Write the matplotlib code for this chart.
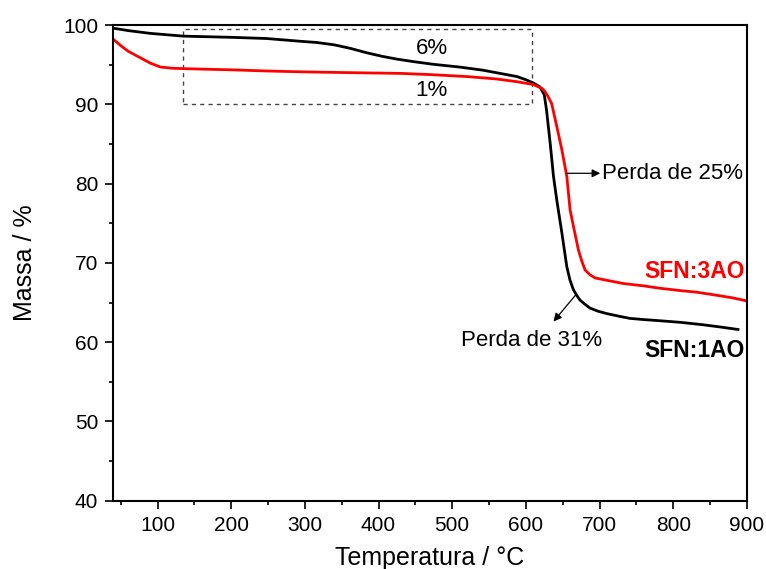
import matplotlib

matplotlib.use("Agg")
import matplotlib.pyplot as plt
from matplotlib.patches import Rectangle
from matplotlib.ticker import MultipleLocator

plt.rcParams["font.family"] = ["Liberation Sans", "DejaVu Sans"]

# TGA curves
temp_1ao = [40, 60, 90, 135, 200, 248, 294, 316, 340, 362, 384, 405, 425, 450, 475,
            510, 542, 565, 588, 600, 610, 619, 625, 628, 633, 637.5, 642, 644, 649,
            655.6, 660, 664.6, 669, 673.6, 680, 687, 698, 710, 725, 741, 760, 782,
            810, 840, 865, 888]
mass_1ao = [99.6, 99.3, 98.95, 98.6, 98.45, 98.3, 97.95, 97.8, 97.5, 97.05, 96.5,
            96.05, 95.7, 95.35, 95.04, 94.7, 94.3, 93.9, 93.5, 93.1, 92.7, 92.2, 91.2,
            89.3, 85.1, 80.9, 77.9, 76.7, 73.7, 69.5, 67.8, 66.6, 65.9, 65.3, 64.8,
            64.3, 63.9, 63.6, 63.3, 63.0, 62.85, 62.7, 62.5, 62.2, 61.9, 61.6]

temp_3ao = [40, 50, 60, 74, 90, 104, 120, 135, 200, 250, 294, 357, 430, 470, 520,
            560, 588, 610, 617, 622, 626, 630, 635, 642, 649, 655.6, 660, 664.6,
            671.4, 676, 680.4, 687, 694, 710, 732, 760, 782, 810, 832, 860, 880, 900]
mass_3ao = [98.2, 97.4, 96.7, 96.0, 95.2, 94.7, 94.55, 94.5, 94.35, 94.2, 94.1, 94.0,
            93.9, 93.75, 93.5, 93.2, 92.85, 92.5, 92.2, 92.0, 91.6, 91.0, 90.1, 87.2,
            84.2, 80.9, 76.7, 74.6, 71.6, 70.2, 69.1, 68.5, 68.1, 67.8, 67.4, 67.1,
            66.8, 66.5, 66.3, 65.9, 65.6, 65.2]

fig = plt.figure(figsize=(7.66, 5.69), dpi=100)
ax = fig.add_axes([0.148, 0.12, 0.827, 0.836])

ax.plot(temp_1ao, mass_1ao, color="black", lw=2)
ax.plot(temp_3ao, mass_3ao, color="red", lw=2)

# dotted box around the low-temperature region
ax.add_patch(Rectangle((135, 90.0), 609 - 135, 99.5 - 90.0, fill=False,
                       ls=(0, (3, 3)), lw=1, color="#444444"))
ax.text(472, 97.1, "6%", ha="center", va="center", fontsize=16)
ax.text(472, 91.8, "1%", ha="center", va="center", fontsize=16)

ax.annotate("", xy=(701, 81.3), xytext=(655.6, 81.3),
            arrowprops=dict(arrowstyle="-|>", color="black", lw=0.9,
                            mutation_scale=12, shrinkA=0, shrinkB=0))
ax.text(703, 81.3, "Perda de 25%", ha="left", va="center", fontsize=16)

ax.annotate("", xy=(637.5, 62.6), xytext=(668, 66.0),
            arrowprops=dict(arrowstyle="-|>", color="black", lw=0.9,
                            mutation_scale=12, shrinkA=0, shrinkB=0))
ax.text(608, 60.2, "Perda de 31%", ha="center", va="center", fontsize=16)

ax.text(897, 68.9, "SFN:3AO", ha="right", va="center", fontsize=16.5,
        fontweight="bold", color="red")
ax.text(897, 59.0, "SFN:1AO", ha="right", va="center", fontsize=16.5,
        fontweight="bold", color="black")

ax.set_xlim(40, 900)
ax.set_ylim(40, 100)
ax.xaxis.set_major_locator(MultipleLocator(100))
ax.xaxis.set_minor_locator(MultipleLocator(50))
ax.yaxis.set_major_locator(MultipleLocator(10))
ax.yaxis.set_minor_locator(MultipleLocator(5))
ax.tick_params(which="both", direction="out", top=False, right=False, width=1.2)
ax.tick_params(which="major", length=6, labelsize=15, pad=5)
ax.tick_params(which="minor", length=3)
for s in ax.spines.values():
    s.set_linewidth(1.5)

ax.set_xlabel("Temperatura / °C", fontsize=18, labelpad=8)
ax.set_ylabel("Massa / %", fontsize=18, labelpad=19)

fig.savefig("out.png", dpi=100)
